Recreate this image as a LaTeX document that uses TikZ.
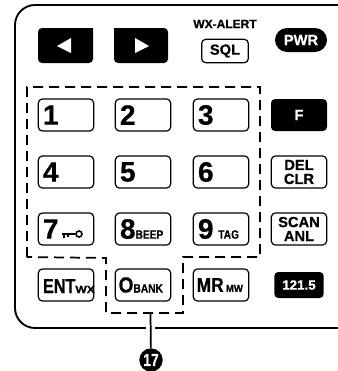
\documentclass[tikz,border=0pt]{standalone}
\usepackage{fontspec}
\setmainfont{Liberation Sans}[BoldFeatures={FakeBold=0.6}]
\tikzset{
    keybox/.style={draw, line width=0.9pt, rounded corners=3pt, minimum width=41.5pt, minimum height=24pt, inner sep=0pt, font=\bfseries},
    numkey/.style={keybox, align=left, text width=34.5pt},
    blackkey/.style={fill=black, text=white, rounded corners=3pt, minimum width=42pt, minimum height=24pt, inner sep=0pt, font=\bfseries},
    keygroup/.style={line width=1.3pt, dash pattern=on 7.5pt off 4.5pt},
}
\newcommand{\bigdigit}[1]{{\fontsize{21}{22}\selectfont #1}}
\newcommand{\subtext}[1]{{\fontsize{9}{10}\selectfont\scalebox{0.85}[1]{#1}}}
\begin{document}
\begin{tikzpicture}[x=0.75pt, y=-0.75pt]
    \useasboundingbox (0,0) rectangle (338,371);
    % panel outline
    \draw[line width=1.4pt, rounded corners=15pt] (338,5) -- (15,5) -- (15,328) -- (338,328);

    % arrow keys
    \fill[rounded corners=3pt] (93,28) -- (38,28) -- (38,63) -- (93,63) [sharp corners] -- cycle;
    \fill[rounded corners=3pt] (114,28) -- (168,28) -- (168,63) -- (114,63) [sharp corners] -- cycle;
    \fill[white] (57,46) -- (71,38) -- (71,53) -- cycle;
    \fill[white] (149,46) -- (135,38) -- (135,53) -- cycle;

    \node[font=\bfseries\fontsize{9}{9}\selectfont] (wxalert) at (225,24) {WX-ALERT};
    \node[keybox, minimum width=35pt, minimum height=17.5pt, font=\bfseries\fontsize{11}{11}\selectfont] (sql) at (225,51) {SQL};
    \node[blackkey, minimum width=39pt, minimum height=18pt, rounded corners=9pt, font=\bfseries\fontsize{11}{11}\selectfont] (pwr) at (301,40) {PWR};
    \node[blackkey, font=\bfseries\fontsize{11}{11}\selectfont] (fkey) at (299,115) {F};
    \node[blackkey, minimum width=37pt, minimum height=19.5pt, font=\bfseries\fontsize{10}{10}\selectfont] (airband) at (299,285) {121.5};

    % number keys
    \foreach \name/\x/\y/\labeltext in {
            one/66/115/1, two/143/115/2, three/221/115/3,
            four/66/172/4, five/143/172/5, six/221/172/6,
            seven/66/229/7, eight/143/229/{8\subtext{BEEP}}, nine/221/229/{9\,\subtext{TAG}}} {
        \node[numkey] (\name) at (\x,\y) {\bigdigit{\labeltext}};
    }
    \node[numkey] (ent) at (66,285) {\hspace{-2.5pt}\bigdigit{\scalebox{0.58}[0.72]{ENT}}{\fontsize{9}{10}\selectfont\scalebox{1}[0.85]{WX}}};
    \node[numkey] (bank) at (143,285) {\hspace{-1pt}\bigdigit{\scalebox{0.68}[0.78]{O}}\subtext{BANK}};
    \node[numkey] (mr) at (221,285) {\hspace{-1pt}\bigdigit{\scalebox{0.62}[0.72]{MR}}\,{\fontsize{9}{10}\selectfont\scalebox{0.8}[0.85]{MW}}};

    % key symbol of the 7 key
    \draw[line width=1.2pt] (79,234) circle (3);
    \draw[line width=1.2pt] (62,234) -- (75,234);
    \draw[line width=1.2pt] (64,234) -- (64,238) (68,234) -- (68,237);

    % two line keys
    \foreach \name/\y/\upper/\lower in {del/172/DEL/CLR, scan/229/SCAN/ANL} {
        \node[keybox, align=center, font=\bfseries\fontsize{11}{10.5}\selectfont] (\name) at (299,\y) {\upper\\\lower};
    }

    % key group
    \draw[keygroup] (27,257) -- (27,87) -- (260,87) -- (260,257) -- (183,257) -- (183,313) -- (106,313) -- (106,258) -- (27,257);

    % callout
    \coordinate (groupedge) at (150.5,313);
    \node[circle, fill=black, text=white, minimum size=17.5pt, inner sep=0pt, font=\bfseries\fontsize{13}{13}\selectfont] (callout) at (151,360) {\scalebox{0.8}[1]{17}};
    \draw[white, line width=7pt] (150.5,322) -- (150.5,334);
    \draw[line width=1.3pt] (groupedge) -- (callout);
\end{tikzpicture}
\end{document}
